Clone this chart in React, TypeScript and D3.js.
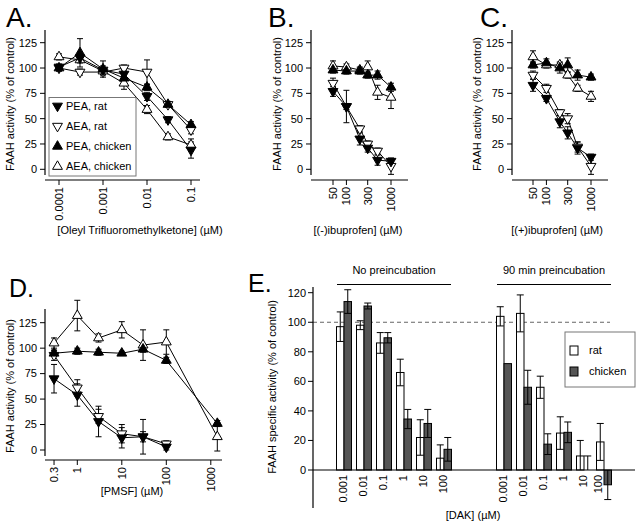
import React from 'react';
import * as d3 from 'd3';

const FONT = "'Liberation Sans', Arial, Helvetica, sans-serif";

// ---------- Panel A : Oleyl trifluoromethylketone ----------
const aDoses = [0.0001, 0.0003, 0.001, 0.003, 0.01, 0.03, 0.1];
const aPeaRat = [101, 110, 98, 94, 72, 49, 19];
const aPeaRatErr = [3, 4, 4, 3, 4, 3, 8];
const aAeaRat = [100, 96, 96, 100, 96, 64, 39];
const aAeaRatErr = [3, 3, 3, 3, 12, 3, 4];
const aPeaChicken = [100, 115, 99, 90, 81, 64, 44];
const aPeaChickenErr = [3, 14, 8, 4, 3, 3, 3];
const aAeaChicken = [111, 108, 97, 85, 59, 32, 24];
const aAeaChickenErr = [3, 3, 3, 6, 4, 3, 6];
const aTicks = [0.0001, 0.001, 0.01, 0.1];
const aTickLabels = ['0.0001', '0.001', '0.01', '0.1'];

// ---------- Panel B : (-)ibuprofen ----------
const bDoses = [50, 100, 200, 300, 500, 1000];
const bPeaRat = [77, 62, 30, 21, 9, 8];
const bPeaRatErr = [5, 16, 6, 4, 5, 3];
const bAeaRat = [85, 62, 40, 25, 18, 3];
const bAeaRatErr = [5, 3, 3, 3, 3, 8];
const bPeaChicken = [98, 97, 97, 93, 93, 81];
const bPeaChickenErr = [3, 3, 3, 3, 4, 4];
const bAeaChicken = [102, 101, 98, 101, 76, 71];
const bAeaChickenErr = [5, 3, 3, 6, 7, 11];
const ibuTicks = [50, 100, 300, 1000];
const ibuTickLabels = ['50', '100', '300', '1000'];

// ---------- Panel C : (+)ibuprofen ----------
const cDoses = [50, 100, 200, 300, 500, 1000];
const cPeaRat = [83, 70, 47, 36, 21, 12];
const cPeaRatErr = [6, 3, 6, 6, 6, 3];
const cAeaRat = [93, 80, 56, 50, 22, 3];
const cAeaRatErr = [4, 4, 3, 5, 5, 8];
const cPeaChicken = [103, 105, 100, 103, 93, 91];
const cPeaChickenErr = [3, 4, 5, 7, 5, 3];
const cAeaChicken = [111, 103, 103, 93, 80, 72];
const cAeaChickenErr = [6, 3, 3, 3, 3, 5];

// ---------- Panel D : PMSF ----------
const dRatDoses = [0.3, 1, 3, 10, 30, 100];
const dChickenDoses = [0.3, 1, 3, 10, 30, 100, 1400];
const dPeaRat = [70, 54, 28, 12, 13, 3];
const dPeaRatErr = [14, 11, 15, 10, 17, 3];
const dAeaRat = [93, 61, 33, 16, 13, 6];
const dAeaRatErr = [5, 8, 7, 9, 5, 3];
const dPeaChicken = [95, 97, 96, 95, 99, 88, 26];
const dPeaChickenErr = [3, 3, 3, 2, 3, 3, 3];
const dAeaChicken = [105, 132, 110, 118, 103, 106, 13];
const dAeaChickenErr = [5, 15, 4, 8, 15, 12, 14];
const dTicks = [0.3, 1, 10, 100, 1000];
const dTickLabels = ['0.3', '1', '10', '100', '1000'];

const yTicksPct = [0, 25, 50, 75, 100, 125];

// ---------- Panel E : DAK ----------
const eDoseLabels = ['0.001', '0.01', '0.1', '1', '10', '100'];
const eNoPreRat = [97, 98, 86, 66, 22, 8];
const eNoPreRatErr = [10, 3, 7, 9, 12, 9];
const eNoPreChicken = [114, 111, 89.5, 34.5, 31.5, 14];
const eNoPreChickenErr = [8, 2, 3.5, 6.5, 9.5, 8];
const ePreRat = [104, 106, 56, 25, 9.5, 19];
const ePreRatErr = [6.5, 12.5, 7.5, 11, 10.5, 12.5];
const ePreChicken = [72, 56, 17.5, 25.5, 0, -10];
const ePreChickenErr = [0, 11.5, 7, 7, 9.5, 10];
const eYTicks = [0, 20, 40, 60, 80, 100, 120];
const eGroups = ['No preincubation', '90 min preincubation'];
const eLegend = ['rat', 'chicken'];

type Series = { x: number[]; y: number[]; err: number[]; down: boolean; filled: boolean };

const SYM = d3.symbol().type(d3.symbolTriangle).size(42);
const symPath = SYM() as string;

function Marker({ cx, cy, down, filled }: { cx: number; cy: number; down: boolean; filled: boolean }) {
  return (
    <path
      d={symPath}
      transform={`translate(${cx},${cy})${down ? ' rotate(180)' : ''}`}
      fill={filled ? '#000' : '#fff'}
      stroke="#000"
      strokeWidth={1}
    />
  );
}

type PanelProps = {
  xs: d3.ScaleLogarithmic<number, number>;
  ys: d3.ScaleLinear<number, number>;
  series: Series[];
  xTicks: number[];
  xTickLabels: string[];
  yAxisX: number;
  yAxisTop: number;
  yAxisBottom: number;
  xAxisY: number;
  xAxisLeft: number;
  xAxisRight: number;
  xTitle: string;
  xTitleX: number;
  xTitleY: number;
  yTitleX: number;
  yTitleY: number;
};

function LinePanel(p: PanelProps) {
  const line = d3
    .line<[number, number]>()
    .x((d) => p.xs(d[0]))
    .y((d) => p.ys(d[1]));
  return (
    <g>
      <line x1={p.yAxisX} x2={p.yAxisX} y1={p.yAxisTop} y2={p.yAxisBottom} stroke="#000" strokeWidth={1.2} />
      {yTicksPct.map((t) => (
        <g key={t}>
          <line x1={p.yAxisX - 5} x2={p.yAxisX} y1={p.ys(t)} y2={p.ys(t)} stroke="#000" />
          <text x={p.yAxisX - 8} y={p.ys(t)} dy="0.35em" textAnchor="end" fontSize={11} fontFamily={FONT}>
            {t}
          </text>
        </g>
      ))}
      <text
        transform={`translate(${p.yTitleX},${p.yTitleY}) rotate(-90)`}
        textAnchor="middle"
        dy="0.35em"
        fontSize={11}
        fontFamily={FONT}
      >
        FAAH activity (% of control)
      </text>
      <line x1={p.xAxisLeft} x2={p.xAxisRight} y1={p.xAxisY} y2={p.xAxisY} stroke="#000" strokeWidth={1.2} />
      {p.xTicks.map((t, i) => (
        <g key={t}>
          <line x1={p.xs(t)} x2={p.xs(t)} y1={p.xAxisY} y2={p.xAxisY + 5} stroke="#000" />
          <text
            transform={`translate(${p.xs(t)},${p.xAxisY + 7}) rotate(-90)`}
            textAnchor="end"
            dy="0.35em"
            fontSize={11}
            fontFamily={FONT}
          >
            {p.xTickLabels[i]}
          </text>
        </g>
      ))}
      <text x={p.xTitleX} y={p.xTitleY} textAnchor="middle" fontSize={11} fontFamily={FONT}>
        {p.xTitle}
      </text>
      {p.series.map((s, i) => (
        <path
          key={'l' + i}
          d={line(s.x.map((xv, j) => [xv, s.y[j]] as [number, number])) as string}
          fill="none"
          stroke="#000"
          strokeWidth={1}
        />
      ))}
      {p.series.map((s, i) =>
        s.x.map((xv, j) => {
          const e = s.err[j];
          if (!e) return null;
          const cx = p.xs(xv);
          const y1 = p.ys(s.y[j] - e);
          const y2 = p.ys(s.y[j] + e);
          return (
            <g key={'e' + i + '-' + j} stroke="#000" strokeWidth={1}>
              <line x1={cx} x2={cx} y1={y1} y2={y2} />
              <line x1={cx - 3} x2={cx + 3} y1={y1} y2={y1} />
              <line x1={cx - 3} x2={cx + 3} y1={y2} y2={y2} />
            </g>
          );
        })
      )}
      {p.series.map((s, i) =>
        s.x.map((xv, j) => (
          <Marker key={'m' + i + '-' + j} cx={p.xs(xv)} cy={p.ys(s.y[j])} down={s.down} filled={s.filled} />
        ))
      )}
    </g>
  );
}

function mk(x: number[], y: number[], err: number[], down: boolean, filled: boolean): Series {
  return { x, y, err, down, filled };
}

export default function App() {
  const yTop = d3.scaleLinear().domain([0, 125]).range([169.3, 42.7]);
  const yD = d3.scaleLinear().domain([0, 125]).range([450, 322.7]);

  const xA = d3.scaleLog().domain([0.0001, 0.1]).range([59, 191]);
  const xB = d3.scaleLog().domain([50, 1000]).range([333, 391]);
  const xC = d3.scaleLog().domain([50, 1000]).range([533, 591]);
  const xD = d3.scaleLog().domain([1, 1000]).range([77.3, 210.8]);

  const seriesA = [
    mk(aDoses, aAeaRat, aAeaRatErr, true, false),
    mk(aDoses, aAeaChicken, aAeaChickenErr, false, false),
    mk(aDoses, aPeaChicken, aPeaChickenErr, false, true),
    mk(aDoses, aPeaRat, aPeaRatErr, true, true),
  ];
  const seriesB = [
    mk(bDoses, bAeaRat, bAeaRatErr, true, false),
    mk(bDoses, bAeaChicken, bAeaChickenErr, false, false),
    mk(bDoses, bPeaChicken, bPeaChickenErr, false, true),
    mk(bDoses, bPeaRat, bPeaRatErr, true, true),
  ];
  const seriesC = [
    mk(cDoses, cAeaRat, cAeaRatErr, true, false),
    mk(cDoses, cAeaChicken, cAeaChickenErr, false, false),
    mk(cDoses, cPeaChicken, cPeaChickenErr, false, true),
    mk(cDoses, cPeaRat, cPeaRatErr, true, true),
  ];
  const seriesD = [
    mk(dRatDoses, dAeaRat, dAeaRatErr, true, false),
    mk(dChickenDoses, dAeaChicken, dAeaChickenErr, false, false),
    mk(dChickenDoses, dPeaChicken, dPeaChickenErr, false, true),
    mk(dRatDoses, dPeaRat, dPeaRatErr, true, true),
  ];

  const yE = d3.scaleLinear().domain([0, 120]).range([470, 292.7]);
  const slot = d3.scaleLinear().domain([0, 13]).range([344, 604]);
  const sub = d3.scaleBand().domain(eLegend).range([-7.5, 7.5]);
  const bw = sub.bandwidth();
  const eBars: { key: string; slot: number; kind: string; v: number; err: number }[] = [];
  eDoseLabels.forEach((_, i) => {
    eBars.push({ key: 'n-r' + i, slot: i, kind: 'rat', v: eNoPreRat[i], err: eNoPreRatErr[i] });
    eBars.push({ key: 'n-c' + i, slot: i, kind: 'chicken', v: eNoPreChicken[i], err: eNoPreChickenErr[i] });
    eBars.push({ key: 'p-r' + i, slot: i + 8, kind: 'rat', v: ePreRat[i], err: ePreRatErr[i] });
    eBars.push({ key: 'p-c' + i, slot: i + 8, kind: 'chicken', v: ePreChicken[i], err: ePreChickenErr[i] });
  });
  const eSlots = [0, 1, 2, 3, 4, 5, 8, 9, 10, 11, 12, 13];
  const eAxisX = 313;

  const legendA = [
    { label: 'PEA, rat', down: true, filled: true },
    { label: 'AEA, rat', down: true, filled: false },
    { label: 'PEA, chicken', down: false, filled: true },
    { label: 'AEA, chicken', down: false, filled: false },
  ];
  const legendAY = d3.scalePoint().domain(legendA.map((d) => d.label)).range([106, 166.5]);

  return (
    <svg
      width={640}
      height={522}
      style={{ position: 'absolute', left: 0, top: 0, background: '#fff' }}
      fontFamily={FONT}
    >
      <rect width={640} height={522} fill="#fff" />
      <text x={6} y={27} fontSize={28} fontFamily={FONT}>A.</text>
      <text x={268} y={27} fontSize={28} fontFamily={FONT}>B.</text>
      <text x={480} y={27} fontSize={28} fontFamily={FONT}>C.</text>
      <text x={9} y={297} fontSize={25} fontFamily={FONT}>D.</text>
      <text x={248} y={292} fontSize={25} fontFamily={FONT}>E.</text>

      <LinePanel
        xs={xA}
        ys={yTop}
        series={seriesA}
        xTicks={aTicks}
        xTickLabels={aTickLabels}
        yAxisX={45}
        yAxisTop={30}
        yAxisBottom={175}
        xAxisY={180}
        xAxisLeft={45}
        xAxisRight={200}
        xTitle="[Oleyl Trifluoromethylketone] (µM)"
        xTitleX={140}
        xTitleY={234}
        yTitleX={10}
        yTitleY={104}
      />
      <rect x={49} y={97.5} width={87} height={78.5} fill="#fff" stroke="#777" strokeWidth={1} />
      {legendA.map((d) => (
        <g key={d.label}>
          <Marker cx={57.5} cy={legendAY(d.label) as number} down={d.down} filled={d.filled} />
          <text x={66} y={legendAY(d.label) as number} dy="0.35em" fontSize={11} fontFamily={FONT}>
            {d.label}
          </text>
        </g>
      ))}

      <LinePanel
        xs={xB}
        ys={yTop}
        series={seriesB}
        xTicks={ibuTicks}
        xTickLabels={ibuTickLabels}
        yAxisX={311}
        yAxisTop={30}
        yAxisBottom={175}
        xAxisY={180}
        xAxisLeft={311}
        xAxisRight={408}
        xTitle="[(-)ibuprofen] (µM)"
        xTitleX={358}
        xTitleY={234}
        yTitleX={277}
        yTitleY={104}
      />
      <LinePanel
        xs={xC}
        ys={yTop}
        series={seriesC}
        xTicks={ibuTicks}
        xTickLabels={ibuTickLabels}
        yAxisX={512}
        yAxisTop={30}
        yAxisBottom={175}
        xAxisY={180}
        xAxisLeft={512}
        xAxisRight={608}
        xTitle="[(+)ibuprofen] (µM)"
        xTitleX={557}
        xTitleY={234}
        yTitleX={477}
        yTitleY={104}
      />
      <LinePanel
        xs={xD}
        ys={yD}
        series={seriesD}
        xTicks={dTicks}
        xTickLabels={dTickLabels}
        yAxisX={45}
        yAxisTop={309}
        yAxisBottom={456}
        xAxisY={460}
        xAxisLeft={45}
        xAxisRight={222}
        xTitle="[PMSF] (µM)"
        xTitleX={132}
        xTitleY={495}
        yTitleX={10}
        yTitleY={386}
      />

      <g>
        {eGroups.map((g, gi) => {
          const x0 = slot(gi * 8) - 7;
          const x1 = slot(gi * 8 + 5) + 7;
          return (
            <g key={g}>
              <text x={(x0 + x1) / 2} y={274} textAnchor="middle" fontSize={11} fontFamily={FONT}>
                {g}
              </text>
              <line x1={x0} x2={x1} y1={284.5} y2={284.5} stroke="#000" strokeWidth={1} />
            </g>
          );
        })}
        <line x1={eAxisX} x2={610} y1={yE(100)} y2={yE(100)} stroke="#666" strokeDasharray="4,3" strokeWidth={1} />
        {eBars.map((b) => {
          const bx = slot(b.slot) + (sub(b.kind) as number);
          const top = yE(Math.max(0, b.v));
          const bot = yE(Math.min(0, b.v));
          return (
            <rect
              key={b.key}
              x={bx}
              y={top}
              width={bw}
              height={Math.max(0, bot - top)}
              fill={b.kind === 'rat' ? '#fff' : '#555'}
              stroke="#000"
              strokeWidth={1}
            />
          );
        })}
        {eBars.map((b) => {
          if (!b.err) return null;
          const cx = slot(b.slot) + (sub(b.kind) as number) + bw / 2;
          const lo = b.v >= 0 ? Math.max(0, b.v - b.err) : b.v - b.err;
          const hi = b.v >= 0 ? b.v + b.err : Math.min(0, b.v + b.err);
          const outer = b.v >= 0 ? hi : lo;
          const inner = b.v >= 0 ? lo : hi;
          return (
            <g key={'e' + b.key} stroke="#000" strokeWidth={1}>
              <line x1={cx} x2={cx} y1={yE(lo)} y2={yE(hi)} />
              <line x1={cx - 3.5} x2={cx + 3.5} y1={yE(outer)} y2={yE(outer)} />
              {inner !== 0 && <line x1={cx - 3.5} x2={cx + 3.5} y1={yE(inner)} y2={yE(inner)} />}
            </g>
          );
        })}
        <line x1={eAxisX} x2={eAxisX} y1={287} y2={508} stroke="#000" strokeWidth={1.2} />
        {eYTicks.map((t) => (
          <g key={t}>
            <line x1={eAxisX - 5} x2={eAxisX} y1={yE(t)} y2={yE(t)} stroke="#000" />
            <text x={eAxisX - 7} y={yE(t)} dy="0.35em" textAnchor="end" fontSize={11} fontFamily={FONT}>
              {t}
            </text>
          </g>
        ))}
        <text
          transform={`translate(272,387) rotate(-90)`}
          textAnchor="middle"
          dy="0.35em"
          fontSize={11}
          fontFamily={FONT}
        >
          FAAH specific activity (% of control)
        </text>
        <line x1={eAxisX} x2={635} y1={yE(0)} y2={yE(0)} stroke="#000" strokeWidth={1.2} />
        {eSlots.map((s, i) => (
          <text
            key={'xt' + s}
            transform={`translate(${slot(s) - (s === 13 ? 6 : 1)},${yE(0) + 5}) rotate(-90)`}
            textAnchor="end"
            dy="0.35em"
            fontSize={11}
            fontFamily={FONT}
          >
            {eDoseLabels[i % 6]}
          </text>
        ))}
        <text x={473} y={519} textAnchor="middle" fontSize={11} fontFamily={FONT}>
          [DAK] (µM)
        </text>
        <rect x={565} y={332} width={70} height={55} fill="#fff" stroke="#777" strokeWidth={1} />
        {eLegend.map((l, i) => (
          <g key={l}>
            <rect
              x={570}
              y={346 + i * 21}
              width={8}
              height={9}
              fill={l === 'rat' ? '#fff' : '#555'}
              stroke="#000"
              strokeWidth={1}
            />
            <text x={589} y={350.5 + i * 21} dy="0.35em" fontSize={11} fontFamily={FONT}>
              {l}
            </text>
          </g>
        ))}
      </g>
    </svg>
  );
}
